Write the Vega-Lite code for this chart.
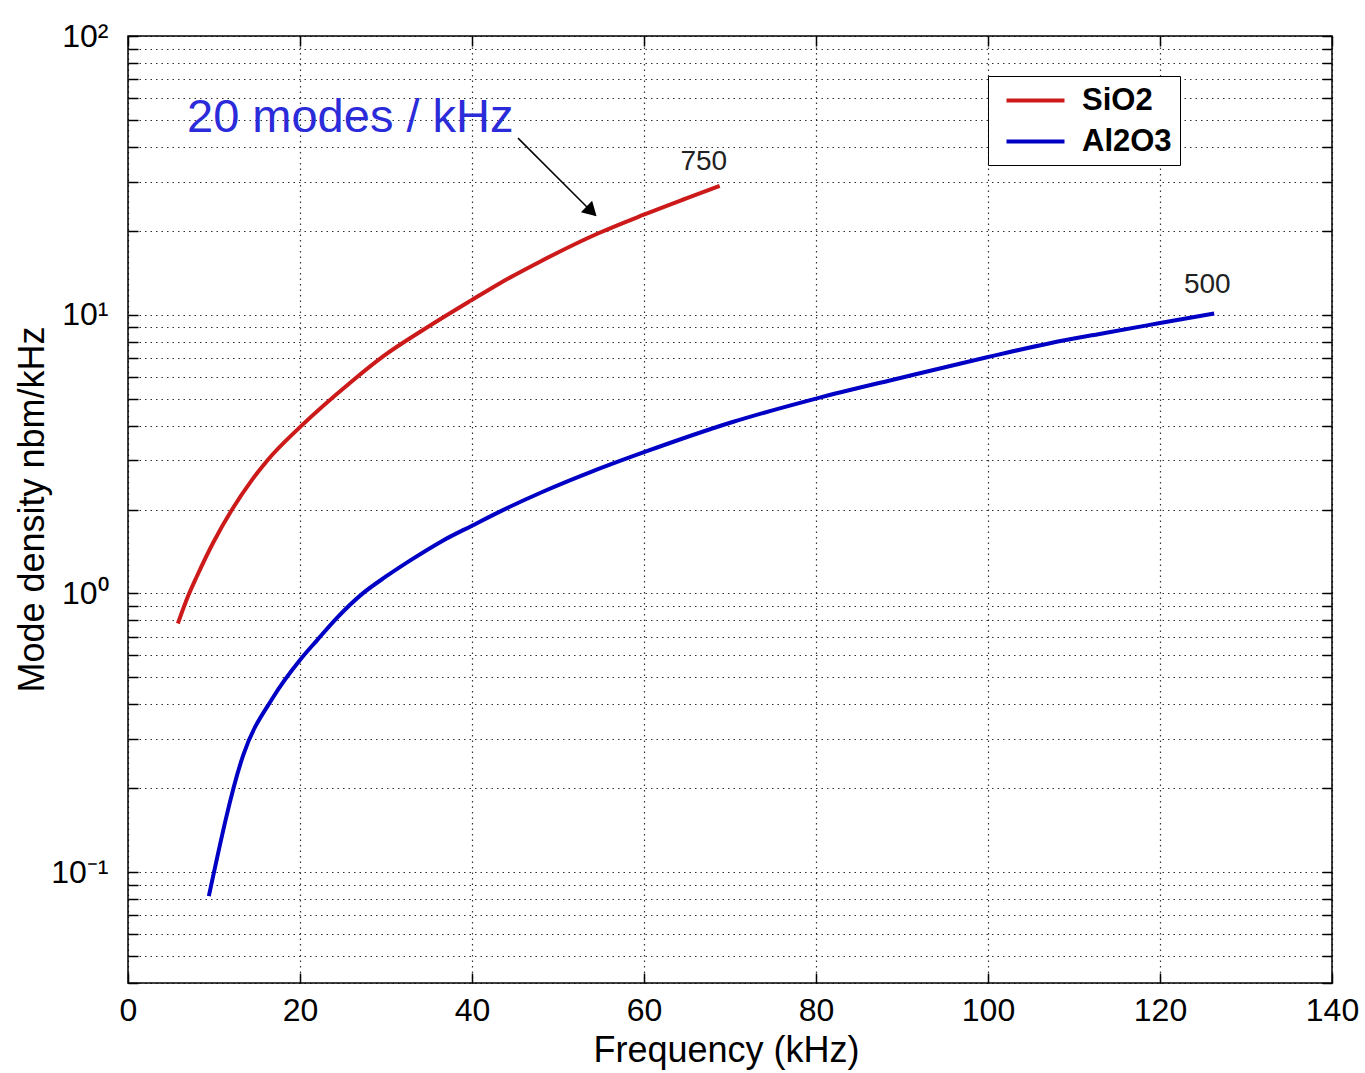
{
  "$schema": "https://vega.github.io/schema/vega-lite/v6.json",
  "width": 1204,
  "height": 947,
  "autosize": {"type": "none"},
  "padding": {"left": 128, "top": 36, "right": 33, "bottom": 90},
  "background": "white",
  "config": {
    "view": {"stroke": "black", "strokeWidth": 1.5},
    "font": "Liberation Sans"
  },
  "datasets": {
    "curves": [
      {"f": 5.8, "d": 0.78, "material": "SiO2"},
      {"f": 7.0, "d": 0.98, "material": "SiO2"},
      {"f": 8.0, "d": 1.15, "material": "SiO2"},
      {"f": 9.9, "d": 1.52, "material": "SiO2"},
      {"f": 12.1, "d": 2.0, "material": "SiO2"},
      {"f": 14.4, "d": 2.55, "material": "SiO2"},
      {"f": 16.2, "d": 3.0, "material": "SiO2"},
      {"f": 20.0, "d": 3.95, "material": "SiO2"},
      {"f": 25.8, "d": 5.69, "material": "SiO2"},
      {"f": 29.7, "d": 7.1, "material": "SiO2"},
      {"f": 34.3, "d": 8.81, "material": "SiO2"},
      {"f": 40.0, "d": 11.3, "material": "SiO2"},
      {"f": 43.3, "d": 13.0, "material": "SiO2"},
      {"f": 47.9, "d": 15.5, "material": "SiO2"},
      {"f": 54.7, "d": 19.6, "material": "SiO2"},
      {"f": 59.9, "d": 22.8, "material": "SiO2"},
      {"f": 65.0, "d": 26.2, "material": "SiO2"},
      {"f": 68.8, "d": 29.0, "material": "SiO2"},
      {"f": 9.4, "d": 0.082, "material": "Al2O3"},
      {"f": 13.4, "d": 0.263, "material": "Al2O3"},
      {"f": 16.9, "d": 0.425, "material": "Al2O3"},
      {"f": 20.0, "d": 0.577, "material": "Al2O3"},
      {"f": 22.0, "d": 0.68, "material": "Al2O3"},
      {"f": 24.3, "d": 0.817, "material": "Al2O3"},
      {"f": 27.3, "d": 1.0, "material": "Al2O3"},
      {"f": 30.0, "d": 1.15, "material": "Al2O3"},
      {"f": 33.1, "d": 1.33, "material": "Al2O3"},
      {"f": 36.5, "d": 1.54, "material": "Al2O3"},
      {"f": 40.0, "d": 1.75, "material": "Al2O3"},
      {"f": 43.3, "d": 1.97, "material": "Al2O3"},
      {"f": 48.3, "d": 2.32, "material": "Al2O3"},
      {"f": 54.0, "d": 2.74, "material": "Al2O3"},
      {"f": 60.0, "d": 3.21, "material": "Al2O3"},
      {"f": 70.3, "d": 4.12, "material": "Al2O3"},
      {"f": 80.0, "d": 5.0, "material": "Al2O3"},
      {"f": 89.8, "d": 5.93, "material": "Al2O3"},
      {"f": 100.0, "d": 7.05, "material": "Al2O3"},
      {"f": 107.2, "d": 7.9, "material": "Al2O3"},
      {"f": 113.6, "d": 8.6, "material": "Al2O3"},
      {"f": 120.0, "d": 9.33, "material": "Al2O3"},
      {"f": 126.3, "d": 10.1, "material": "Al2O3"}
    ],
    "labels": [
      {"f": 66.95, "d": 33.0, "label": "750"},
      {"f": 125.5, "d": 11.97, "label": "500"}
    ],
    "note": [
      {"f": 6.86, "d": 45.2, "label": "20 modes / kHz"}
    ],
    "arrow": [
      {"f": 45.35, "d": 43.0, "f2": 54.3, "d2": 22.8}
    ],
    "head": [
      {"f": 53.9, "d": 23.5}
    ]
  },
  "resolve": {"axis": {"x": "independent", "y": "independent"}},
  "layer": [
    {
      "data": {"name": "curves"},
      "mark": {"type": "line", "strokeWidth": 4, "interpolate": "monotone"},
      "encoding": {
        "x": {
          "field": "f", "type": "quantitative",
          "scale": {"domain": [0, 140], "nice": false, "zero": false},
          "axis": {
            "orient": "bottom",
            "values": [0, 20, 40, 60, 80, 100, 120, 140],
            "title": "Frequency (kHz)",
            "titleFontSize": 36, "titleFontWeight": "normal", "titleColor": "black",
            "titleX": 598, "titleY": 67, "titleAlign": "center", "titleBaseline": "middle",
            "labelFontSize": 32, "labelColor": "black", "labelPadding": 22,
            "labelFlush": false, "labelOverlap": false,
            "tickSize": -10, "tickColor": "black", "tickWidth": 1.5,
            "domain": false,
            "grid": true, "gridColor": "black", "gridDash": [1.5, 4], "gridOpacity": 0.8, "gridWidth": 1.2
          }
        },
        "y": {
          "field": "d", "type": "quantitative",
          "scale": {"type": "log", "domain": [0.04, 100], "nice": false},
          "axis": {
            "orient": "left",
            "values": [0.04, 0.05, 0.06, 0.07, 0.08, 0.09, 0.1, 0.2, 0.3, 0.4, 0.5, 0.6, 0.7, 0.8, 0.9, 1, 2, 3, 4, 5, 6, 7, 8, 9, 10, 20, 30, 40, 50, 60, 70, 80, 90, 100],
            "labelExpr": "datum.value == 100 ? '10²' : datum.value == 10 ? '10¹' : datum.value == 1 ? '10⁰' : (datum.value > 0.099 && datum.value < 0.101) ? '10⁻¹' : ''",
            "title": "Mode density nbm/kHz",
            "titleFontSize": 36, "titleFontWeight": "normal", "titleColor": "black",
            "titleX": -96, "titleY": 473, "titleAlign": "center", "titleBaseline": "middle", "titleAngle": 270,
            "labelFontSize": 32, "labelColor": "black", "labelPadding": 30,
            "labelFlush": false, "labelOverlap": false,
            "tickSize": -10, "tickColor": "black", "tickWidth": 1.5,
            "domain": false,
            "grid": true, "gridColor": "black", "gridDash": [1.5, 4], "gridOpacity": 0.8, "gridWidth": 1.2
          }
        },
        "color": {
          "field": "material", "type": "nominal",
          "scale": {"domain": ["SiO2", "Al2O3"], "range": ["#cc1a1a", "#0000c4"]},
          "legend": {
            "title": null,
            "orient": "none",
            "legendX": 860,
            "legendY": 40,
            "direction": "vertical",
            "fillColor": "white",
            "strokeColor": "black",
            "padding": 8,
            "symbolType": "M-2,0H2",
            "symbolSize": 841,
            "symbolStrokeWidth": 4,
            "symbolOffset": 23,
            "labelOffset": 30,
            "labelFontSize": 31,
            "labelFontWeight": "bold",
            "labelColor": "black",
            "rowPadding": 9
          }
        }
      }
    },
    {
      "data": {"name": "arrow"},
      "mark": {"type": "rule", "color": "black", "strokeWidth": 1.5},
      "encoding": {
        "x": {"field": "f", "type": "quantitative", "axis": null},
        "y": {"field": "d", "type": "quantitative", "axis": null},
        "x2": {"field": "f2"},
        "y2": {"field": "d2"}
      }
    },
    {
      "data": {"name": "head"},
      "mark": {"type": "point", "shape": "triangle-up", "filled": true, "color": "black", "size": 260, "angle": 134, "opacity": 1},
      "encoding": {
        "x": {"field": "f", "type": "quantitative", "axis": null},
        "y": {"field": "d", "type": "quantitative", "axis": null}
      }
    },
    {
      "data": {"name": "labels"},
      "mark": {"type": "text", "fontSize": 28, "color": "#222222", "align": "center", "baseline": "alphabetic"},
      "encoding": {
        "x": {"field": "f", "type": "quantitative", "axis": null},
        "y": {"field": "d", "type": "quantitative", "axis": null},
        "text": {"field": "label"}
      }
    },
    {
      "data": {"name": "note"},
      "mark": {"type": "text", "fontSize": 47, "color": "#2b2bd9", "align": "left", "baseline": "alphabetic"},
      "encoding": {
        "x": {"field": "f", "type": "quantitative", "axis": null},
        "y": {"field": "d", "type": "quantitative", "axis": null},
        "text": {"field": "label"}
      }
    },
    {
      "data": {"name": "curves"},
      "mark": {"type": "point", "opacity": 0},
      "encoding": {
        "x": {
          "field": "f", "type": "quantitative",
          "axis": {"orient": "top", "values": [0, 20, 40, 60, 80, 100, 120, 140], "labels": false, "title": null, "domain": false, "grid": false, "tickSize": -10, "tickColor": "black", "tickWidth": 1.5}
        },
        "y": {
          "field": "d", "type": "quantitative",
          "axis": {"orient": "right", "values": [0.04, 0.05, 0.06, 0.07, 0.08, 0.09, 0.1, 0.2, 0.3, 0.4, 0.5, 0.6, 0.7, 0.8, 0.9, 1, 2, 3, 4, 5, 6, 7, 8, 9, 10, 20, 30, 40, 50, 60, 70, 80, 90, 100], "labels": false, "title": null, "domain": false, "grid": false, "tickSize": -10, "tickColor": "black", "tickWidth": 1.5}
        }
      }
    }
  ]
}
